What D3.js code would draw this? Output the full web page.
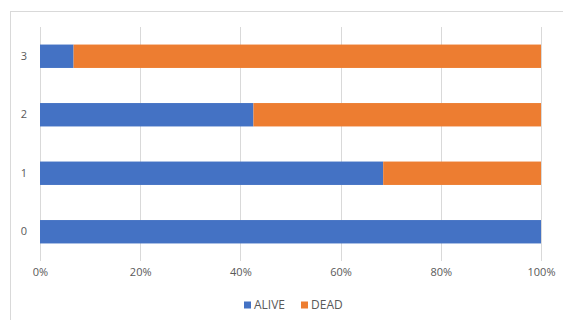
<!DOCTYPE html>
<html><head><meta charset="utf-8">
<script src="https://cdn.jsdelivr.net/npm/d3@7"></script>
<style>body{margin:0;background:#fff;}svg{display:block;font-family:"Open Sans","Noto Sans",sans-serif;}</style>
</head><body>
<svg id="c" width="563" height="320"></svg>
<script>
const categories = ["0", "1", "2", "3"];
const seriesNames = ["ALIVE", "DEAD"];
const alive = [100, 68.5, 42.6, 6.7];
const dead = [0, 31.5, 57.4, 93.3];
const xTicks = [0, 20, 40, 60, 80, 100];
const colors = ["#4472C4", "#ED7D31"];

const svg = d3.select("#c");
// chart frame
svg.append("rect").attr("x", 10.5).attr("y", 11.5).attr("width", 600).attr("height", 400)
  .attr("fill", "none").attr("stroke", "#d9d9d9");

const x = d3.scaleLinear().domain([0, 100]).range([40, 541]);
const y = d3.scaleBand().domain(categories.slice().reverse()).range([27, 261])
  .paddingInner(0.6).paddingOuter(0.3);

// gridlines
svg.append("g").selectAll("line").data(xTicks).join("line")
  .attr("x1", d => Math.round(x(d)) + 0.5).attr("x2", d => Math.round(x(d)) + 0.5)
  .attr("y1", 27).attr("y2", 261).attr("stroke", "#d9d9d9");

const data = categories.map((c, i) => ({cat: c, ALIVE: alive[i], DEAD: dead[i]}));
const stack = d3.stack().keys(seriesNames)(data);
svg.append("g").selectAll("g").data(stack).join("g")
  .attr("fill", (d, i) => colors[i])
  .selectAll("rect").data(d => d).join("rect")
  .attr("x", d => x(d[0])).attr("width", d => x(d[1]) - x(d[0]))
  .attr("y", d => y(d.data.cat)).attr("height", y.bandwidth());

// y axis labels
const yAxis = d3.axisLeft(y).tickSize(0).tickPadding(0);
const ya = svg.append("g").attr("transform", "translate(24,0)").call(yAxis);
ya.select(".domain").remove();
ya.selectAll("text").attr("fill", "#595959").attr("font-size", 11).attr("text-anchor", "middle")
  .attr("font-family", "'Open Sans','Noto Sans',sans-serif");

// x axis labels
const xAxis = d3.axisBottom(x).tickValues(xTicks).tickFormat(d => d + "%").tickSize(0).tickPadding(0);
const xa = svg.append("g").attr("transform", "translate(0,268)").call(xAxis);
xa.select(".domain").remove();
xa.selectAll("text").attr("fill", "#595959").attr("font-size", 11)
  .attr("font-family", "'Open Sans','Noto Sans',sans-serif");

// legend
const legend = svg.append("g").attr("transform", "translate(0,305)");
const items = [{n: "ALIVE", x: 244}, {n: "DEAD", x: 301}];
items.forEach((it, i) => {
  legend.append("rect").attr("x", it.x).attr("y", -3.5).attr("width", 7).attr("height", 7).attr("fill", colors[i]);
  legend.append("text").attr("x", it.x + 10).attr("y", 0).attr("dy", "0.35em")
    .attr("fill", "#595959").attr("font-size", 12).text(it.n);
});
</script>
</body></html>
